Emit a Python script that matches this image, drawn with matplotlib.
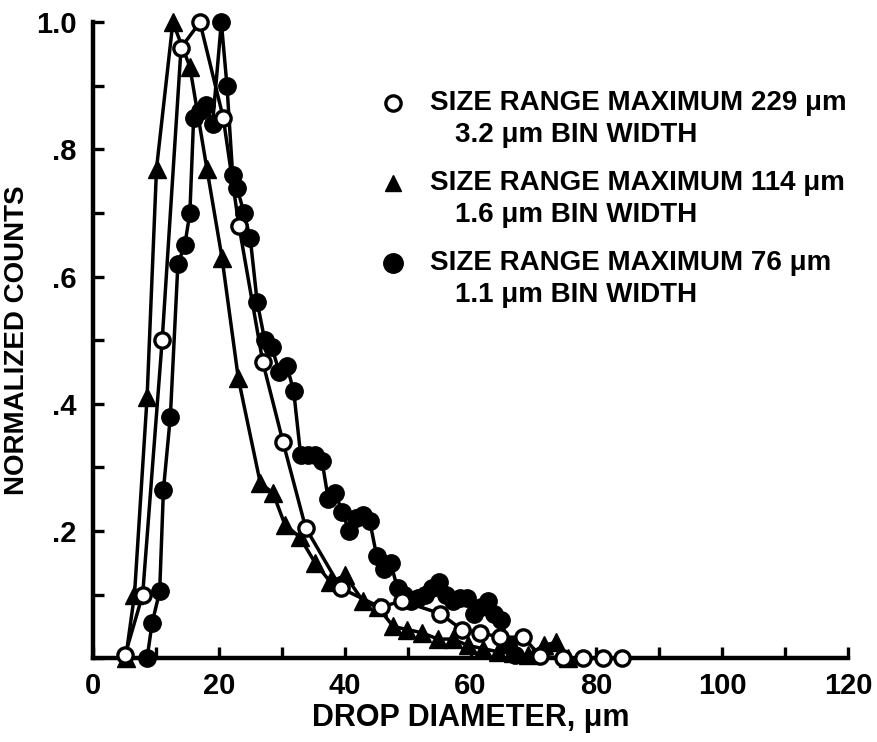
import matplotlib.pyplot as plt
from matplotlib.ticker import MultipleLocator, FixedLocator, FixedFormatter

plt.rcParams['font.family'] = ['Liberation Sans Narrow', 'Liberation Sans', 'DejaVu Sans']
plt.rcParams['font.weight'] = 'bold'

# 229 um size range, 3.2 um bins (open circles)
x_open = [5.1, 7.9, 11.0, 14.0, 17.0, 20.7, 23.2, 27.0, 30.2, 33.8, 39.4, 45.7,
          49.1, 55.2, 58.6, 61.5, 64.7, 68.4, 71.1, 74.7, 77.9, 81.0, 84.0]
y_open = [0.005, 0.10, 0.50, 0.96, 1.0, 0.85, 0.68, 0.465, 0.34, 0.205, 0.11, 0.08,
          0.09, 0.07, 0.045, 0.04, 0.033, 0.033, 0.003, 0.0, 0.0, 0.0, 0.0]

# 114 um size range, 1.6 um bins (triangles)
x_tri = [5.2, 6.6, 8.6, 10.1, 12.7, 15.4, 18.1, 20.5, 23.1, 26.6, 28.6, 30.5,
         32.9, 35.3, 37.7, 40.1, 42.9, 45.3, 47.7, 49.9, 52.3, 54.8, 57.2, 59.6,
         62.0, 64.4, 66.8, 69.2, 71.6, 73.6, 75.5]
y_tri = [0.0, 0.10, 0.41, 0.77, 1.0, 0.93, 0.77, 0.63, 0.44, 0.275, 0.26, 0.21,
         0.19, 0.15, 0.12, 0.13, 0.09, 0.08, 0.05, 0.045, 0.04, 0.03, 0.03, 0.02,
         0.015, 0.01, 0.008, 0.005, 0.02, 0.025, 0.0]

# 76 um size range, 1.1 um bins (filled circles)
x_fill = [8.6, 9.4, 10.6, 11.2, 12.3, 13.5, 14.6, 15.4, 16.0, 17.0, 18.0, 19.0,
          20.4, 21.3, 22.2, 22.9, 24.0, 25.0, 26.1, 27.3, 28.4, 29.6, 30.8, 31.9,
          33.0, 34.1, 35.3, 36.4, 37.4, 38.5, 39.6, 40.7, 41.8, 42.9, 44.0, 45.1,
          46.2, 47.3, 48.4, 49.5, 50.6, 51.7, 52.8, 53.9, 55.0, 56.1, 57.2, 58.3,
          59.4, 60.5, 61.6, 62.7, 63.8, 64.9, 66.0, 67.1]
y_fill = [0.0, 0.055, 0.105, 0.265, 0.38, 0.62, 0.65, 0.70, 0.85, 0.86, 0.87, 0.84,
          1.0, 0.90, 0.76, 0.74, 0.70, 0.66, 0.56, 0.50, 0.49, 0.45, 0.46, 0.42,
          0.32, 0.32, 0.32, 0.31, 0.25, 0.26, 0.23, 0.20, 0.22, 0.225, 0.215, 0.16,
          0.14, 0.15, 0.11, 0.10, 0.09, 0.095, 0.10, 0.11, 0.12, 0.10, 0.09, 0.095,
          0.095, 0.07, 0.08, 0.09, 0.07, 0.06, 0.02, 0.005]

legend_lines = [
    ("SIZE RANGE MAXIMUM 229 \u03bcm", "3.2 \u03bcm BIN WIDTH"),
    ("SIZE RANGE MAXIMUM 114 \u03bcm", "1.6 \u03bcm BIN WIDTH"),
    ("SIZE RANGE MAXIMUM 76 \u03bcm", "1.1 \u03bcm BIN WIDTH"),
]

fig = plt.figure(figsize=(8.77, 7.42), dpi=100)
ax = fig.add_axes([0.106, 0.113, 0.861, 0.857])

lw = 2.5
ax.plot(x_tri, y_tri, color='black', lw=lw, marker='^', ms=12.5, mfc='black',
        mec='black', clip_on=False, zorder=3)
ax.plot(x_fill, y_fill, color='black', lw=lw, marker='o', ms=12.5, mfc='black',
        mec='black', clip_on=False, zorder=4)
ax.plot(x_open, y_open, color='black', lw=lw, marker='o', ms=11, mfc='white',
        mec='black', mew=2.4, clip_on=False, zorder=5)

ax.set_xlim(0, 120)
ax.set_ylim(0, 1.0)

for side in ['top', 'right']:
    ax.spines[side].set_visible(False)
for side in ['left', 'bottom']:
    ax.spines[side].set_linewidth(3.2)

ax.xaxis.set_major_locator(MultipleLocator(20))
ax.xaxis.set_minor_locator(MultipleLocator(10))
ax.yaxis.set_major_locator(FixedLocator([0.2, 0.4, 0.6, 0.8, 1.0]))
ax.yaxis.set_major_formatter(FixedFormatter(['.2', '.4', '.6', '.8', '1.0']))
ax.yaxis.set_minor_locator(MultipleLocator(0.1))
ax.tick_params(which='both', direction='in', length=8, width=2.4)
ax.tick_params(axis='x', labelsize=21, pad=10)
ax.tick_params(axis='y', labelsize=21, pad=12)

ax.set_xlabel("DROP DIAMETER, \u03bcm", fontsize=22, fontweight='bold', labelpad=2)
ax.set_ylabel("NORMALIZED COUNTS", fontsize=20, fontweight='bold')
ax.yaxis.set_label_coords(-0.084, 0.5)

# legend drawn by hand so the marker sits on the first line of each entry
markers = [dict(marker='o', mfc='white', mew=2.4, ms=11),
           dict(marker='^', mfc='black', ms=12),
           dict(marker='o', mfc='black', ms=14)]
row_y = [0.873, 0.747, 0.621]
for (first, second), mk, yy in zip(legend_lines, markers, row_y):
    ax.plot([0.397], [yy], transform=ax.transAxes, color='black', mec='black',
            clip_on=False, **mk)
    ax.text(0.446, yy, first, transform=ax.transAxes, fontsize=20,
            fontweight='bold', va='center')
    ax.text(0.479, yy - 0.05, second, transform=ax.transAxes, fontsize=20,
            fontweight='bold', va='center')

plt.savefig("out.png", dpi=100)
plt.close()
